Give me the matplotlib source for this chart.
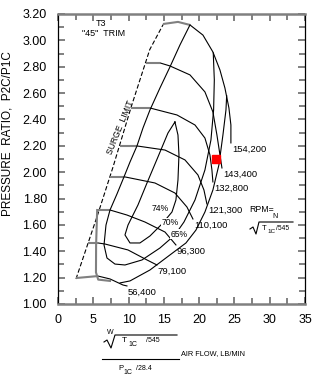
import matplotlib
matplotlib.use('Agg')
import matplotlib.pyplot as plt
from matplotlib.lines import Line2D

plt.rcParams['font.family'] = ['Liberation Sans', 'DejaVu Sans']

# surge limit
surge_x = [2.55, 4.25, 5.7, 7.8, 10.4, 13.0, 14.9]
surge_y = [1.19, 1.46, 1.69, 2.04, 2.50, 2.93, 3.12]

# corrected speed lines (first stub_n points drawn grey)
speed_labels = ['154,200', '143,400', '132,800', '121,300', '110,100', '96,300', '79,100', '56,400']
speed_x = [
    [14.87, 17.0, 18.7, 20.54, 21.95, 22.95, 23.65, 24.22, 24.5, 24.5],
    [12.46, 14.45, 15.86, 18.7, 20.82, 21.95, 22.52, 22.95, 23.23],
    [10.34, 13.03, 16.86, 19.41, 20.82, 21.53, 21.81, 21.95],
    [8.78, 11.19, 15.16, 17.99, 19.83, 20.68, 21.1],
    [7.37, 9.49, 13.74, 16.57, 18.27, 19.12],
    [5.67, 7.37, 9.77, 12.32, 15.16, 16.71],
    [4.25, 5.67, 6.66, 9.92, 12.61, 14.02],
    [2.55, 5.67, 7.37, 9.21, 9.77],
]
speed_y = [
    [3.124, 3.14, 3.117, 3.04, 2.912, 2.775, 2.639, 2.487, 2.358, 2.222],
    [2.829, 2.829, 2.806, 2.738, 2.609, 2.457, 2.282, 2.131, 2.032],
    [2.487, 2.487, 2.434, 2.358, 2.259, 2.131, 2.017, 1.926],
    [2.199, 2.199, 2.168, 2.093, 1.979, 1.865, 1.759],
    [1.964, 1.964, 1.918, 1.842, 1.736, 1.645],
    [1.713, 1.713, 1.675, 1.622, 1.546, 1.448],
    [1.463, 1.463, 1.455, 1.41, 1.334, 1.296],
    [1.197, 1.212, 1.19, 1.144, 1.137],
]
stub_n = [3, 2, 2, 2, 2, 2, 2, 2]

# grey low-flow boundary
grey_x = [5.55, 5.4, 5.38, 5.7, 7.37]
grey_y = [1.713, 1.45, 1.24, 1.185, 1.175]

# efficiency islands
eff74_x = [16.57, 15.58, 14.16, 12.61, 11.33, 9.92, 9.49, 10.2, 11.61, 13.03, 14.73, 16.15, 16.71, 17.0, 17.14, 17.0, 16.57]
eff74_y = [2.381, 2.297, 2.115, 1.918, 1.751, 1.599, 1.524, 1.463, 1.463, 1.516, 1.607, 1.698, 1.789, 1.941, 2.131, 2.282, 2.381]
eff70_x = [18.7, 17.28, 15.86, 14.45, 13.03, 12.04, 11.19, 10.2, 9.35, 8.36, 7.37, 6.8, 6.52, 6.94, 8.07, 9.49,
           11.9, 14.45, 16.57, 17.85, 19.41, 20.82, 21.67, 22.05, 22.15, 22.0]
eff70_y = [3.117, 2.965, 2.798, 2.639, 2.472, 2.335, 2.199, 2.077, 1.964, 1.835, 1.713, 1.599, 1.448, 1.349, 1.303, 1.296,
           1.334, 1.425, 1.524, 1.622, 1.789, 2.017, 2.244, 2.472, 2.70, 2.905]
eff65_x = [8.8, 10.2, 13.03, 15.86, 18.13, 19.55, 20.82, 21.95, 22.8, 23.37, 23.8, 23.9]
eff65_y = [1.16, 1.175, 1.258, 1.372, 1.463, 1.561, 1.698, 1.865, 2.055, 2.282, 2.472, 2.58]
eff_labels = ['74%', '70%', '65%']
eff_lab_x = [14.45, 15.86, 17.14]
eff_lab_y = [1.728, 1.615, 1.531]

# operating point
pt_x = [22.45]
pt_y = [2.10]

W, H = 313, 378
fig = plt.figure(figsize=(W / 100, H / 100), dpi=100)
ax = fig.add_axes([58 / W, 1 - 304 / H, 247 / W, 290 / H])

def fx(px):
    return px / W

def fy(py):
    return 1 - py / H

ax.plot(surge_x, surge_y, color='black', lw=0.8, ls=(0, (4, 2)))

for i in range(len(speed_labels)):
    xs, ys = speed_x[i], speed_y[i]
    n = stub_n[i]
    ax.plot(xs[n - 1:], ys[n - 1:], color='black', lw=0.8)
    ax.plot(xs[:n], ys[:n], color='#808080', lw=1.5, solid_capstyle='butt')
    ax.annotate(speed_labels[i], (xs[-1], ys[-1]), xytext=(1, -2), textcoords='offset pixels',
                ha='left', va='top', fontsize=6.8)

ax.plot(grey_x, grey_y, color='#808080', lw=1.5)
ax.plot(eff74_x, eff74_y, color='black', lw=0.8)
ax.plot(eff70_x, eff70_y, color='black', lw=0.8)
ax.plot(eff65_x, eff65_y, color='black', lw=0.8)
for lab, x, y in zip(eff_labels, eff_lab_x, eff_lab_y):
    ax.text(x, y, lab, ha='center', va='center', fontsize=6.2,
            bbox=dict(facecolor='white', edgecolor='none', pad=0.3))

ax.plot(pt_x, pt_y, marker='s', color='red', markersize=5.5, ls='none')

ax.set_xlim(0, 35)
ax.set_ylim(1.0, 3.2)
ax.set_xticks(range(0, 36, 5))
ax.set_xticks([2.5 + 5 * k for k in range(7)], minor=True)
yt = [1.0 + 0.2 * k for k in range(12)]
ax.set_yticks(yt)
ax.set_yticklabels(['%.2f' % v for v in yt])
ax.set_yticks([1.1 + 0.2 * k for k in range(11)], minor=True)
ax.tick_params(which='both', direction='in', color='#808080', width=1.4,
               top=True, right=True, labelsize=9)
ax.tick_params(which='major', length=5)
ax.tick_params(which='minor', length=4.5)
ax.tick_params(axis='y', pad=8)
ax.tick_params(axis='x', pad=7)
for s in ['top', 'bottom']:
    ax.spines[s].set_color('#808080')
    ax.spines[s].set_linewidth(1.8)
for s in ['left', 'right']:
    ax.spines[s].set_linewidth(0.9)

ax.text(fx(101), fy(23), 'T3', transform=fig.transFigure, ha='center', va='center', fontsize=6.5)
ax.text(fx(104), fy(34), '"45"  TRIM', transform=fig.transFigure, ha='center', va='center', fontsize=6.5)
ax.text(fx(120), fy(127), 'SURGE  LIMIT', transform=fig.transFigure, ha='center', va='center',
        fontsize=6.2, rotation=68)

fig.text(fx(8), fy(134), 'PRESSURE  RATIO,  P2C/P1C', rotation=90, ha='center', va='center', fontsize=8.5)

# RPM formula
fig.text(fx(249), fy(210), 'RPM=', ha='left', va='center', fontsize=6.3)
fig.text(fx(275), fy(216), 'N', ha='center', va='center', fontsize=5)
fig.add_artist(Line2D([fx(250), fx(253), fx(256), fx(259), fx(293)],
                      [fy(229), fy(227), fy(234), fy(222), fy(222)], color='black', lw=0.8))
fig.text(fx(262), fy(228), 'T', ha='left', va='center', fontsize=5.5)
fig.text(fx(267), fy(231), '1C', ha='left', va='center', fontsize=4.5)
fig.text(fx(276), fy(228), '/545', ha='left', va='center', fontsize=4.8)

# x axis label
fig.text(fx(110), fy(333), 'W', ha='center', va='center', fontsize=5)
fig.add_artist(Line2D([fx(104), fx(107), fx(111), fx(115), fx(177)],
                      [fy(342), fy(340), fy(348), fy(335), fy(335)], color='black', lw=0.8))
fig.text(fx(122), fy(341), 'T', ha='left', va='center', fontsize=6)
fig.text(fx(128), fy(345), '1C', ha='left', va='center', fontsize=5)
fig.text(fx(146), fy(340), '/545', ha='left', va='center', fontsize=5)
fig.add_artist(Line2D([fx(102), fx(179)], [fy(359), fy(359)], color='black', lw=0.8))
fig.text(fx(181), fy(354), 'AIR FLOW, LB/MIN', ha='left', va='center', fontsize=5.3)
fig.text(fx(118), fy(369), 'P', ha='left', va='center', fontsize=5.5)
fig.text(fx(123), fy(373), '1C', ha='left', va='center', fontsize=5)
fig.text(fx(136), fy(369), '/28.4', ha='left', va='center', fontsize=5)

fig.savefig('out.png', dpi=100)
